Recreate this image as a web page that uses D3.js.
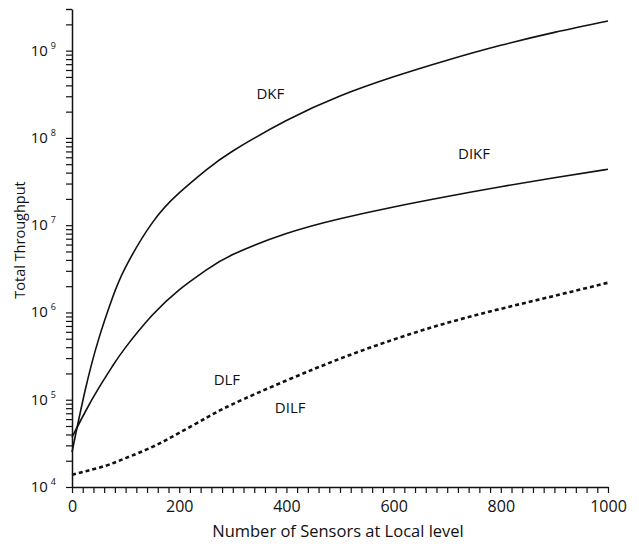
<!DOCTYPE html>
<html>
<head>
<meta charset="utf-8">
<script src="https://cdn.jsdelivr.net/npm/d3@7"></script>
<style>
body { margin: 0; background: #fff; }
text { font-family: 'Open Sans', 'DejaVu Sans', sans-serif; fill: #111; }
</style>
</head>
<body>
<svg width="639" height="546"></svg>
<script>
// number of sensors at local level
var sensors = [0, 25, 50, 75, 100, 150, 200, 250, 300, 400, 500, 600, 700, 800, 900, 1000];

// total throughput
var dkf  = [25100, 131800, 501200, 1445000, 3310000, 1.07e7, 2.34e7, 4.27e7, 7.08e7, 1.58e8, 3.02e8, 5.01e8, 7.76e8, 1.15e9, 1.62e9, 2.19e9];
var dikf = [37150, 73300, 136500, 239900, 398100, 933000, 1820000, 3.05e6, 4.61e6, 8.02e6, 1.186e7, 1.617e7, 2.13e7, 2.76e7, 3.5e7, 4.37e7];
var dlf  = [13800, 15100, 16600, 18600, 21400, 28800, 41700, 61700, 89100, 166000, 295000, 490000, 759000, 1.1e6, 1.55e6, 2.19e6];

var xTicks = d3.range(0, 1001, 20);
var xLabels = [0, 200, 400, 600, 800, 1000];
var decades = [4, 5, 6, 7, 8, 9];

var labels = [
    {name: 'DKF',  s: 370, v: 3.2e8},
    {name: 'DIKF', s: 750, v: 6.5e7},
    {name: 'DLF',  s: 289, v: 1.7e5},
    {name: 'DILF', s: 407, v: 8.0e4}
];

var svg = d3.select('svg');

var x = d3.scaleLinear().domain([0, 1000]).range([72, 608]);
var y = d3.scaleLog().domain([1e4, 3e9]).range([487, 9]);

// minor ticks of the log axis
var yTicks = [];
decades.forEach(function(e){
    for (var m = 1; m < 10; m++) {
        var v = m * Math.pow(10, e);
        if (v <= 3e9) yTicks.push(v);
    }
});
yTicks.push(3e9);

var yAxis = d3.axisLeft(y)
    .tickValues(yTicks)
    .tickSize(6)
    .tickSizeOuter(0)
    .tickFormat('');

var gy = svg.append('g')
    .attr('transform', 'translate(72,0)')
    .call(yAxis);

var xAxis = d3.axisBottom(x)
    .tickValues(xTicks)
    .tickSize(6)
    .tickSizeOuter(0)
    .tickFormat(function(d){
        return xLabels.indexOf(d) >= 0 ? d : '';
    });

var gx = svg.append('g')
    .attr('transform', 'translate(0,487)')
    .call(xAxis);

svg.selectAll('.domain').attr('stroke', '#111').attr('stroke-width', 1.5);
svg.selectAll('.tick line').attr('stroke', '#111').attr('stroke-width', 1.2);

gx.selectAll('text')
    .attr('dy', '1.0em')
    .style('font-size', '16px')
    .style('font-family', "'Open Sans', sans-serif");

// decade labels 10^n
var dl = svg.selectAll('.dec')
    .data(decades)
    .enter()
    .append('text')
    .attr('class', 'dec')
    .attr('x', 56)
    .attr('y', function(d){
        return y(Math.pow(10, d)) + 5;
    })
    .attr('text-anchor', 'end')
    .style('font-size', '15px');

dl.append('tspan').text('10');
dl.append('tspan')
    .attr('dx', 3)
    .attr('dy', -7)
    .style('font-size', '9px')
    .text(function(d){
        return d;
    });

svg.append('text')
    .attr('transform', 'translate(25,240) rotate(-90)')
    .attr('text-anchor', 'middle')
    .style('font-size', '14.5px')
    .text('Total Throughput');

svg.append('text')
    .attr('x', 338)
    .attr('y', 537)
    .attr('text-anchor', 'middle')
    .style('font-size', '16.5px')
    .text('Number of Sensors at Local level');

var line = d3.line()
    .x(function(d){
        return x(d[0])
    })
    .y(function(d){
        return y(d[1])
    })
    .curve(d3.curveNatural);

var series = [
    {vals: dkf,  dash: null,  w: 1.6},
    {vals: dikf, dash: null,  w: 1.6},
    {vals: dlf,  dash: '4,3', w: 2.6}
];

svg.selectAll('path.series')
    .data(series)
    .enter()
    .append('path')
    .attr('class', 'series')
    .attr('d', function(d){
        return line(d3.zip(sensors, d.vals))
    })
    .attr('fill', 'none')
    .attr('stroke', '#111')
    .attr('stroke-width', function(d){
        return d.w
    })
    .attr('stroke-dasharray', function(d){
        return d.dash
    });

svg.selectAll('text.lab')
    .data(labels)
    .enter()
    .append('text')
    .attr('class', 'lab')
    .attr('x', function(d){
        return x(d.s)
    })
    .attr('y', function(d){
        return y(d.v)
    })
    .attr('text-anchor', 'middle')
    .attr('dy', '0.35em')
    .style('font-size', '15px')
    .text(function(d){
        return d.name
    });
</script>
</body>
</html>
